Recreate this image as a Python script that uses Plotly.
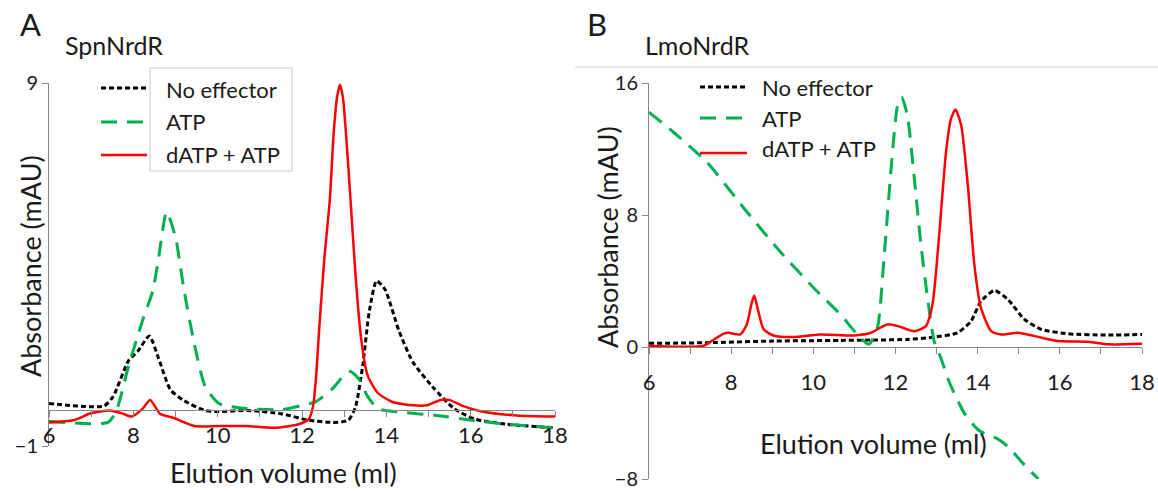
import plotly.graph_objects as go

W, H = 1158, 492

# ---------------- Panel A : SpnNrdR ----------------
a_none_x = [6.0, 7.3, 7.52, 7.89, 8.1, 8.38, 8.6, 8.88, 9.2, 9.7, 10.03, 10.7, 11.5, 12.16, 12.74,
            13.1, 13.27, 13.44, 13.6, 13.77, 13.97, 14.3, 14.63, 15.12, 15.61, 16.1, 16.85, 18.0]
a_none_y = [0.17, 0.10, 0.36, 1.36, 1.6, 2.03, 1.41, 0.55, 0.25, -0.02, -0.05, -0.02, -0.11, -0.29, -0.35,
            -0.29, 0.08, 1.22, 2.74, 3.55, 3.31, 2.17, 1.31, 0.6, 0.03, -0.26, -0.4, -0.5]

a_atp_x = [6.0, 7.4, 7.6, 7.89, 8.22, 8.46, 8.59, 8.79, 9.0, 9.2, 9.45, 9.7, 10.03, 10.68, 11.5, 12.0,
           12.33, 12.74, 12.98, 13.15, 13.35, 13.56, 13.8, 14.38, 15.2, 16.02, 16.85, 18.0]
a_atp_y = [-0.32, -0.35, -0.02, 1.22, 2.46, 3.27, 4.1, 5.45, 4.75, 3.31, 1.79, 0.65, 0.17, 0.03, 0.0, 0.12,
           0.22, 0.6, 0.93, 1.05, 0.84, 0.36, 0.03, -0.07, -0.16, -0.29, -0.4, -0.5]

a_datp_x = [6.0, 6.58, 6.99, 7.44, 7.73, 7.97, 8.22, 8.4, 8.63, 8.96, 9.45, 10.03, 10.68, 11.34, 11.92,
            12.16, 12.26, 12.33, 12.41, 12.53, 12.66, 12.75, 12.83, 12.9, 12.97, 13.05, 13.15, 13.27,
            13.4, 13.56, 13.8, 14.13, 14.63, 14.96, 15.29, 15.49, 15.78, 16.27, 17.09, 18.0]
a_datp_y = [-0.35, -0.29, -0.1, -0.02, -0.1, -0.19, 0.03, 0.27, -0.11, -0.23, -0.45, -0.45, -0.45, -0.5, -0.4,
            -0.26, 0.08, 0.84, 2.27, 4.17, 5.79, 7.6, 8.6, 8.95, 8.6, 7.5, 5.8, 3.7,
            1.98, 0.93, 0.46, 0.22, 0.12, 0.12, 0.27, 0.27, 0.12, -0.05, -0.16, -0.19]

# ---------------- Panel B : LmoNrdR ----------------
b_none_x = [6.0, 7.4, 9.03, 10.66, 12.29, 12.94, 13.51, 13.84, 14.08, 14.41, 14.74, 15.14, 15.55, 16.2, 17.18, 18.0]
b_none_y = [0.22, 0.26, 0.36, 0.4, 0.46, 0.6, 0.86, 1.57, 2.77, 3.42, 2.87, 1.67, 1.07, 0.8, 0.72, 0.76]

b_atp_x = [6.0, 6.59, 7.4, 8.38, 9.19, 10.01, 10.66, 11.07, 11.35, 11.56, 11.72, 11.88, 12.05, 12.15,
           12.29, 12.45, 12.62, 12.78, 12.94, 13.1, 13.33, 13.69, 14.04, 14.49, 14.76, 15.12, 15.48]
b_atp_y = [14.23, 13.03, 11.22, 8.2, 5.79, 3.58, 1.97, 0.76, 0.16, 1.17, 5.39, 10.41, 14.63, 15.14,
           14.03, 10.41, 6.19, 2.97, 0.36, -0.64, -2.26, -4.07, -5.08, -5.58, -6.09, -7.1, -8.0]

b_datp_x = [6.0, 7.32, 7.52, 7.81, 7.93, 8.22, 8.38, 8.49, 8.56, 8.66, 8.79, 9.03, 9.52, 10.17, 10.99,
            11.4, 11.8, 12.13, 12.45, 12.74, 12.9, 13.07, 13.23, 13.35, 13.46, 13.6, 13.76, 13.92,
            14.08, 14.33, 14.57, 14.98, 15.39, 15.96, 16.69, 17.18, 18.0]
b_datp_y = [0.06, 0.06, 0.36, 0.8, 0.86, 0.76, 1.37, 2.57, 3.12, 2.17, 1.07, 0.7, 0.6, 0.76, 0.7,
            0.86, 1.37, 1.21, 0.96, 1.27, 2.57, 7.0, 11.82, 13.83, 14.39, 13.43, 9.81, 4.98,
            2.37, 0.96, 0.76, 0.86, 0.66, 0.36, 0.32, 0.16, 0.2]

series_names = ["No effector", "ATP", "dATP + ATP"]
x_ticks = [6, 8, 10, 12, 14, 16, 18]
a_y_ticks = [-1, 9]
b_y_ticks = [-8, 0, 8, 16]

FONT = "Lato"
TXT = "#1a1a1a"
AX = "#868686"
styles = {
    "No effector": dict(color="black", width=3, dash="5px,3px"),
    "ATP": dict(color="#00b050", width=3, dash="16px,10px"),
    "dATP + ATP": dict(color="#ff0000", width=2.5),
}

fig = go.Figure()
for name, xs, ys in zip(series_names, [a_none_x, a_atp_x, a_datp_x], [a_none_y, a_atp_y, a_datp_y]):
    fig.add_trace(go.Scatter(x=xs, y=ys, name=name, mode="lines", line=dict(**styles[name], shape="spline", smoothing=0.6),
                             xaxis="x", yaxis="y", showlegend=False, hoverinfo="skip"))
for name, xs, ys in zip(series_names, [b_none_x, b_atp_x, b_datp_x], [b_none_y, b_atp_y, b_datp_y]):
    fig.add_trace(go.Scatter(x=xs, y=ys, name=name, mode="lines", line=dict(**styles[name], shape="spline", smoothing=0.6),
                             xaxis="x2", yaxis="y2", showlegend=False, hoverinfo="skip"))

# domains (fractions of full figure, margins are zero)
ax0, ax1 = 49 / W, 555 / W
ay0, ay1 = 46 / H, (H - 83) / H
bx0, bx1 = 649 / W, 1142 / W
by0, by1 = 13 / H, (H - 83) / H
a_zero = ay0 + (0 - (-1)) / 10 * (ay1 - ay0)
b_zero = by0 + (0 - (-8)) / 24 * (by1 - by0)

xcommon = dict(range=[6, 18], showline=True, linecolor=AX, linewidth=1, ticks="outside", ticklen=6,
               tickcolor=AX, tickvals=x_ticks, showgrid=False, zeroline=False, automargin=False,
               ticklabeloverflow="allow",
               minor=dict(dtick=1, tick0=6, ticks="outside", ticklen=6, tickcolor=AX, showgrid=False),
               tickfont=dict(family=FONT, size=22, color=TXT), anchor="free")
ycommon = dict(showline=True, linecolor=AX, ticks="outside", ticklen=6, tickcolor=AX, showgrid=False,
               zeroline=False, automargin=False, ticklabeloverflow="allow")
fig.update_layout(
    template="none",
    xaxis=dict(**xcommon, domain=[ax0, ax1], position=a_zero, ticklabelstandoff=0),
    yaxis=dict(**ycommon, range=[-1, 9], domain=[ay0, ay1], anchor="x", tickvals=a_y_ticks,
               tickfont=dict(family=FONT, size=20, color=TXT)),
    xaxis2=dict(**xcommon, domain=[bx0, bx1], position=b_zero, ticklabelstandoff=10),
    yaxis2=dict(**ycommon, range=[-8, 16], domain=[by0, by1], anchor="x2", tickvals=b_y_ticks,
                tickfont=dict(family=FONT, size=20, color=TXT)),
    width=W, height=H, autosize=False, margin=dict(l=0, r=0, t=0, b=0, pad=0, autoexpand=False),
    plot_bgcolor="white", paper_bgcolor="white", showlegend=False,
)

def px(x):
    return x / W

def py(y):
    return (H - y) / H

ann = []
def text(s, x, y, size, xanchor="left", angle=0):
    ann.append(dict(text=s, x=px(x), y=py(y), xref="paper", yref="paper", xanchor=xanchor, yanchor="middle",
                    showarrow=False, textangle=angle, font=dict(family=FONT, size=size, color=TXT)))

text("A", 18, 24, 31)
text("SpnNrdR", 63, 45, 25)
text("B", 585, 24, 31)
text("LmoNrdR", 643, 45, 25)
text("Absorbance (mAU)", 30, 266, 27, "center", -90)
text("Absorbance (mAU)", 607, 237, 27, "center", -90)
text("Elution volume (ml)", 283, 472, 27, "center")
text("Elution volume (ml)", 873, 443, 27, "center")

shapes = []
# legend A
shapes.append(dict(type="rect", xref="paper", yref="paper", x0=px(150), x1=px(292), y0=py(171), y1=py(68),
                   line=dict(color="#c8c8c8", width=1)))
for i, name in enumerate(series_names):
    yy = [88, 122, 155][i]
    st = styles[name]
    shapes.append(dict(type="line", xref="paper", yref="paper", x0=px(101), x1=px(147), y0=py(yy), y1=py(yy),
                       line=dict(color=st["color"], width=st["width"], dash=st.get("dash", "solid"))))
    text(name, 164, [89, 122, 154][i], 22)
# legend B
shapes.append(dict(type="line", xref="paper", yref="paper", x0=px(575), x1=1, y0=py(67), y1=py(67),
                   line=dict(color="#d0d0d0", width=1)))
for i, name in enumerate(series_names):
    yy = [87, 118, 153][i]
    st = styles[name]
    shapes.append(dict(type="line", xref="paper", yref="paper", x0=px(700), x1=px(747), y0=py(yy), y1=py(yy),
                       line=dict(color=st["color"], width=st["width"], dash=st.get("dash", "solid"))))
    text(name, 760, [88, 118, 148][i], 22)

fig.update_layout(annotations=ann, shapes=shapes)
fig.write_html("out.html", config=dict(displayModeBar=False, responsive=False),
               post_script="document.body.style.margin='0';document.body.style.overflow='hidden';")
